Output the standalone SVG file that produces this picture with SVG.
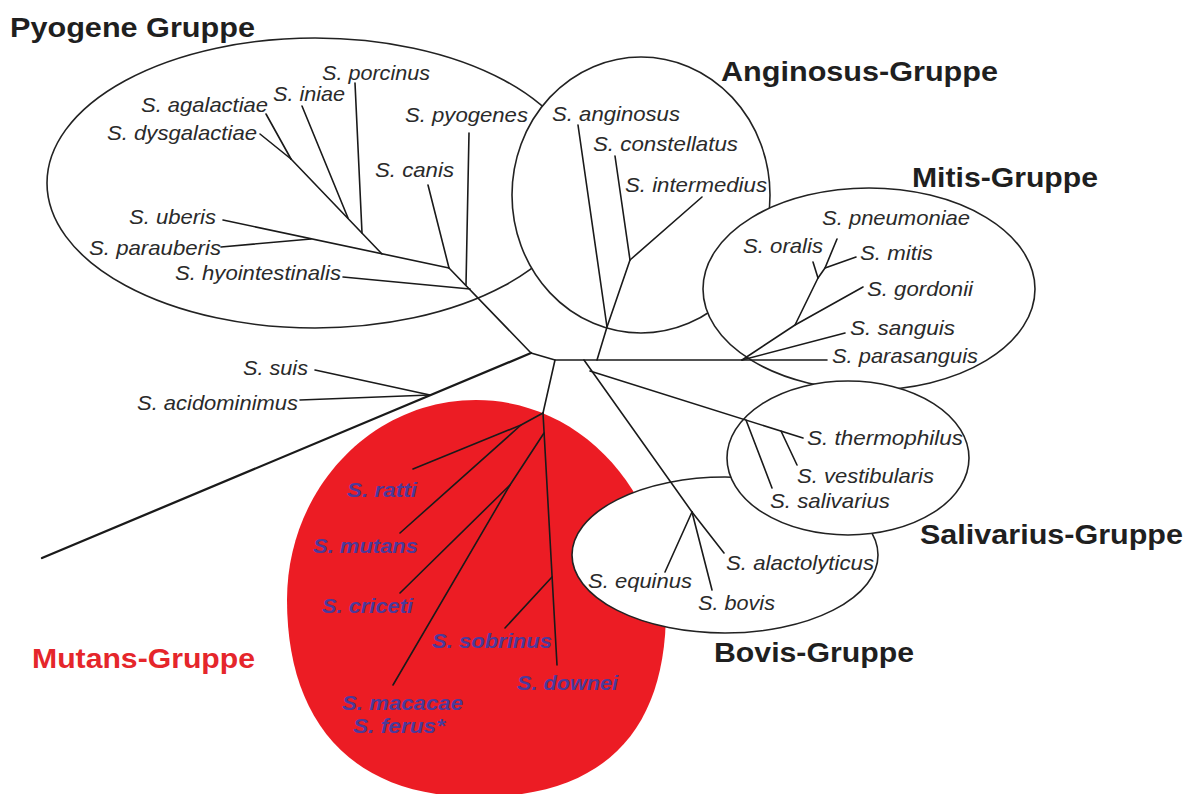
<svg xmlns="http://www.w3.org/2000/svg" width="1195" height="794" viewBox="0 0 1195 794">
<style>
.sp{font-family:"Liberation Sans",Arial,sans-serif;font-style:italic;font-size:21px;fill:#2a2a2a}
.mu{font-family:"Liberation Sans",Arial,sans-serif;font-style:italic;font-weight:bold;font-size:21px;fill:#4b3a9a}
.ti{font-family:"Liberation Sans",Arial,sans-serif;font-weight:bold;font-size:28px;fill:#1f1f1f}
.grp{fill:#fff;stroke:#222;stroke-width:1.6}
.br{stroke:#1a1a1a;stroke-width:1.6;fill:none;stroke-linecap:round;stroke-linejoin:round}
</style>
<rect width="1195" height="794" fill="#fff"/>
<g id="cluster-mutans">
<path d="M476,400 C581,400 666,492 666,610 C666,725 610,797 478,797 C345,797 287,715 287,600 C287,490 371,400 476,400 Z" fill="#ec1c24"/>
<text class="ti" x="32" y="668" textLength="223" lengthAdjust="spacingAndGlyphs" style="fill:#e5262b">Mutans-Gruppe</text>
</g>
<g id="cluster-pyogene">
<ellipse class="grp" cx="315" cy="183" rx="268" ry="145"/>
<text class="ti" x="10" y="37" textLength="245" lengthAdjust="spacingAndGlyphs">Pyogene Gruppe</text>
</g>
<g id="cluster-anginosus">
<ellipse class="grp" cx="641" cy="195" rx="129" ry="138"/>
<text class="ti" x="721" y="81" textLength="277" lengthAdjust="spacingAndGlyphs">Anginosus-Gruppe</text>
</g>
<g id="cluster-mitis">
<ellipse class="grp" cx="869" cy="289" rx="166" ry="101"/>
<text class="ti" x="912" y="187" textLength="186" lengthAdjust="spacingAndGlyphs">Mitis-Gruppe</text>
</g>
<g id="cluster-bovis">
<ellipse class="grp" cx="725" cy="555" rx="153" ry="78"/>
<text class="ti" x="714" y="662" textLength="200" lengthAdjust="spacingAndGlyphs">Bovis-Gruppe</text>
</g>
<g id="cluster-salivarius">
<ellipse class="grp" cx="848" cy="458" rx="121" ry="77"/>
<text class="ti" x="920" y="544" textLength="263" lengthAdjust="spacingAndGlyphs">Salivarius-Gruppe</text>
</g>
<g id="connectors" class="br">
<path d="M531,353 L449,268"/>
<path d="M470,289 L343,277"/>
<path d="M466,285 L469,133"/>
<path d="M449,268 L428,185"/>
<path d="M449,268 L223,220"/>
<path d="M311,239 L221,247"/>
<path d="M382,254 L291,159"/>
<path d="M362,233 L355,83"/>
<path d="M348,218 L302,106"/>
<path d="M291,159 L266,114"/>
<path d="M291,159 L260,134"/>
<path d="M531,353 L42,558" style="stroke-width:2.3"/>
<path d="M430,395 L315,370"/>
<path d="M430,395 L300,400"/>
<path d="M531,353 L555,360 L827,360"/>
<path d="M555,360 L543,413"/>
<path d="M597,360 L607,327 L630,260"/>
<path d="M607,327 L578,125"/>
<path d="M630,260 L615,156"/>
<path d="M630,260 L702,197"/>
<path d="M742,360 L845,333"/>
<path d="M742,360 L795,325 L863,287"/>
<path d="M795,325 L818,278 L825,268 L837,239"/>
<path d="M818,278 L813,262"/>
<path d="M825,268 L856,257"/>
<path d="M584,360 L692,512"/>
<path d="M590,371 L803,438"/>
<path d="M746,420 L772,488"/>
<path d="M781,431 L797,465"/>
<path d="M692,512 L665,572"/>
<path d="M692,512 L712,590"/>
<path d="M692,512 L724,553"/>
<path d="M543,413 L521,425 L413,469"/>
<path d="M521,425 L400,533"/>
<path d="M543,413 L557,665"/>
<path d="M544,433 L510,485 L400,593"/>
<path d="M510,485 L393,685"/>
<path d="M552,577 L505,628"/>
</g>
<g id="n-porcinus"><text class="sp" x="322" y="80" textLength="108" lengthAdjust="spacingAndGlyphs">S. porcinus</text></g>
<g id="n-iniae"><text class="sp" x="273" y="101" textLength="72" lengthAdjust="spacingAndGlyphs">S. iniae</text></g>
<g id="n-agalactiae"><text class="sp" x="141" y="112" textLength="127" lengthAdjust="spacingAndGlyphs">S. agalactiae</text></g>
<g id="n-dysgalactiae"><text class="sp" x="107" y="140" textLength="150" lengthAdjust="spacingAndGlyphs">S. dysgalactiae</text></g>
<g id="n-pyogenes"><text class="sp" x="405" y="122" textLength="123" lengthAdjust="spacingAndGlyphs">S. pyogenes</text></g>
<g id="n-canis"><text class="sp" x="375" y="177" textLength="79" lengthAdjust="spacingAndGlyphs">S. canis</text></g>
<g id="n-uberis"><text class="sp" x="129" y="224" textLength="87" lengthAdjust="spacingAndGlyphs">S. uberis</text></g>
<g id="n-parauberis"><text class="sp" x="89" y="255" textLength="132" lengthAdjust="spacingAndGlyphs">S. parauberis</text></g>
<g id="n-hyointestinalis"><text class="sp" x="175" y="280" textLength="166" lengthAdjust="spacingAndGlyphs">S. hyointestinalis</text></g>
<g id="n-anginosus"><text class="sp" x="552" y="121" textLength="128" lengthAdjust="spacingAndGlyphs">S. anginosus</text></g>
<g id="n-constellatus"><text class="sp" x="593" y="151" textLength="145" lengthAdjust="spacingAndGlyphs">S. constellatus</text></g>
<g id="n-intermedius"><text class="sp" x="625" y="192" textLength="142" lengthAdjust="spacingAndGlyphs">S. intermedius</text></g>
<g id="n-pneumoniae"><text class="sp" x="822" y="225" textLength="148" lengthAdjust="spacingAndGlyphs">S. pneumoniae</text></g>
<g id="n-oralis"><text class="sp" x="743" y="253" textLength="80" lengthAdjust="spacingAndGlyphs">S. oralis</text></g>
<g id="n-mitis"><text class="sp" x="860" y="260" textLength="73" lengthAdjust="spacingAndGlyphs">S. mitis</text></g>
<g id="n-gordonii"><text class="sp" x="867" y="296" textLength="106" lengthAdjust="spacingAndGlyphs">S. gordonii</text></g>
<g id="n-sanguis"><text class="sp" x="850" y="335" textLength="105" lengthAdjust="spacingAndGlyphs">S. sanguis</text></g>
<g id="n-parasanguis"><text class="sp" x="832" y="363" textLength="146" lengthAdjust="spacingAndGlyphs">S. parasanguis</text></g>
<g id="n-thermophilus"><text class="sp" x="807" y="445" textLength="156" lengthAdjust="spacingAndGlyphs">S. thermophilus</text></g>
<g id="n-vestibularis"><text class="sp" x="797" y="483" textLength="137" lengthAdjust="spacingAndGlyphs">S. vestibularis</text></g>
<g id="n-salivarius"><text class="sp" x="770" y="508" textLength="120" lengthAdjust="spacingAndGlyphs">S. salivarius</text></g>
<g id="n-alactolyticus"><text class="sp" x="726" y="570" textLength="148" lengthAdjust="spacingAndGlyphs">S. alactolyticus</text></g>
<g id="n-equinus"><text class="sp" x="588" y="588" textLength="104" lengthAdjust="spacingAndGlyphs">S. equinus</text></g>
<g id="n-bovis"><text class="sp" x="698" y="610" textLength="77" lengthAdjust="spacingAndGlyphs">S. bovis</text></g>
<g id="n-suis"><text class="sp" x="243" y="375" textLength="65" lengthAdjust="spacingAndGlyphs">S. suis</text></g>
<g id="n-acidominimus"><text class="sp" x="137" y="410" textLength="161" lengthAdjust="spacingAndGlyphs">S. acidominimus</text></g>
<g id="n-ratti"><text class="mu" x="347" y="497" textLength="70" lengthAdjust="spacingAndGlyphs">S. ratti</text></g>
<g id="n-mutans"><text class="mu" x="313" y="553" textLength="105" lengthAdjust="spacingAndGlyphs">S. mutans</text></g>
<g id="n-criceti"><text class="mu" x="322" y="613" textLength="91" lengthAdjust="spacingAndGlyphs">S. criceti</text></g>
<g id="n-sobrinus"><text class="mu" x="432" y="648" textLength="120" lengthAdjust="spacingAndGlyphs">S. sobrinus</text></g>
<g id="n-downei"><text class="mu" x="517" y="690" textLength="101" lengthAdjust="spacingAndGlyphs">S. downei</text></g>
<g id="n-macacae"><text class="mu" x="342" y="710" textLength="121" lengthAdjust="spacingAndGlyphs">S. macacae</text><text class="mu" x="353" y="733" textLength="92" lengthAdjust="spacingAndGlyphs">S. ferus*</text></g>
</svg>
